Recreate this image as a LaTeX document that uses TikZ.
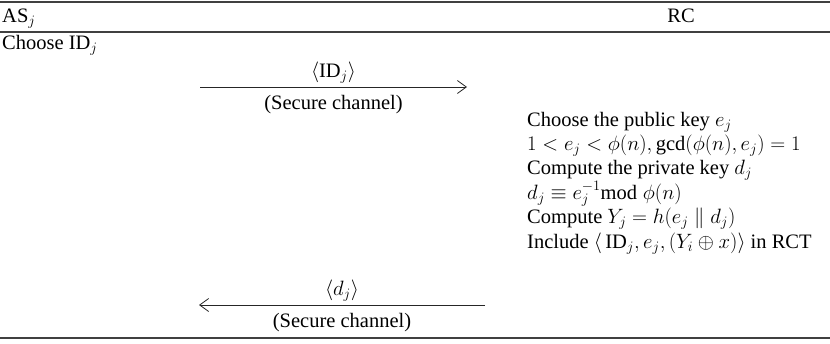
\documentclass[tikz,border=0pt]{standalone}
\usepackage{fontspec}
\setmainfont{Liberation Serif}
\usetikzlibrary{arrows.meta,positioning}

\tikzset{
  rule/.style={draw=black!75, line width=1.1pt},
  msg/.style={draw=black!85, line width=0.8pt,
    -{Straight Barb[length=9pt,width=13pt]}},
  txt/.style={inner sep=0pt, font=\fontsize{20.5}{23}\selectfont},
}

\begin{document}
\begin{tikzpicture}[x=1pt,y=-1pt]

    \useasboundingbox (0,0) rectangle (830,343);

% Lineas de la tabla
	\foreach \y/\n in {2/top, 32/head, 338/foot}
		\draw[rule] (0,\y) coordinate (\n l) -- (830,\y) coordinate (\n r);

% Cabecera
	\node[txt, anchor=base west] (as) at (2,22) {AS$_j$};
	\node[txt, anchor=base] (rc) at (681,22) {RC};

% Lado AS
	\node[txt, anchor=base west] (choose) at (2,49) {Choose ID$_j$};

% Lado RC
	\foreach \txt [count=\i from 0] in {
		{Choose the public key $e_j$},
		{$1 < e_j < \phi(n), \gcd(\phi(n), e_j) = 1$},
		{Compute the private key $d_j$},
		{$d_j \equiv e_j^{\raisebox{-2pt}{$\scriptstyle -1$}}\mathrm{mod}\;\phi(n)$},
		{Compute $Y_j = h\big(e_j \parallel d_j\big)$},
		{Include $\big\langle\, \mathrm{ID}_j, e_j, \big(Y_i \oplus x\big) \big\rangle$ in RCT}}
		\node[txt, anchor=base west] (rc\i) at (527,{126+24.4*\i}) {\txt};

% Mensajes
	\coordinate (m1s) at (200,87);
	\coordinate (m1e) at (467,87);
	\draw[msg] (m1s) -- node[txt, above=3pt] (id) {$\big\langle \mathrm{ID}_j \big\rangle$}
		node[txt, below=8pt] (sc1) {(Secure channel)} (m1e);

	\coordinate (m2s) at (485,305);
	\coordinate (m2e) at (199,305);
	\draw[msg] (m2s) -- node[txt, above=3pt] (dj) {$\big\langle d_j \big\rangle$}
		node[txt, below=8pt] (sc2) {(Secure channel)} (m2e);

\end{tikzpicture}
\end{document}
